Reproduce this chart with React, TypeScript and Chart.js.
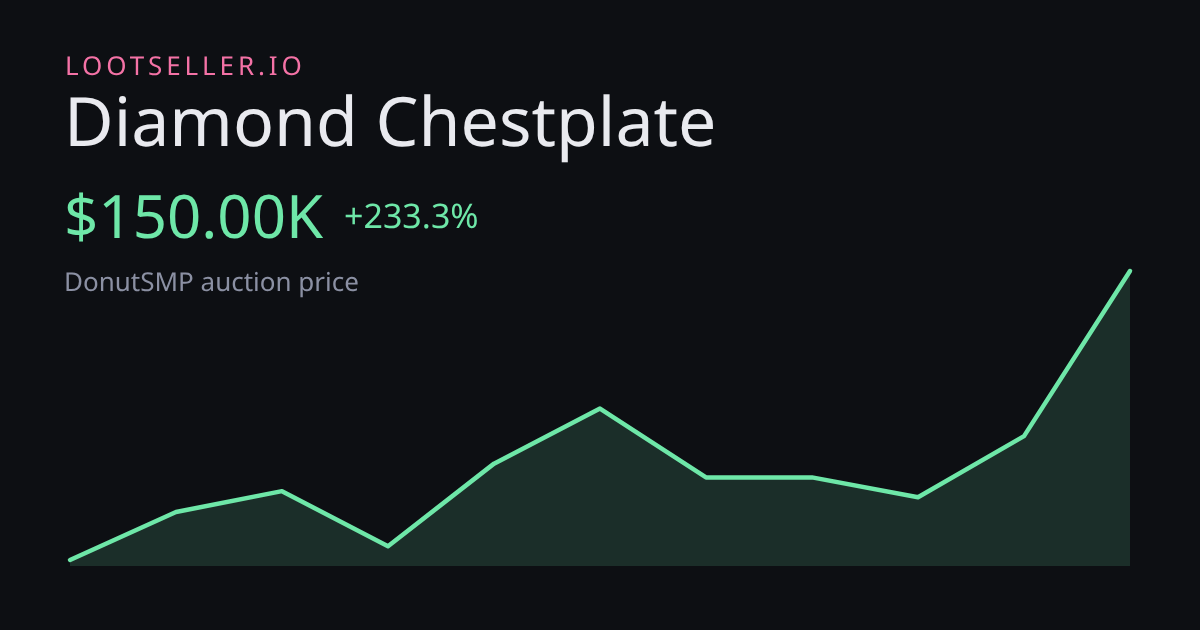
import React, { useEffect, useRef } from "react";
import { Chart, registerables } from "chart.js";

Chart.register(...registerables);

const labels = ["1", "2", "3", "4", "5", "6", "7", "8", "9", "10", "11"];
const prices = [45, 62.4, 70, 50, 80, 100, 75, 75, 67.8, 90, 150];
const yMin = 42.8;
const yMax = 150;

const brand = "LOOTSELLER.IO";
const title = "Diamond Chestplate";
const price = "$150.00K";
const change = "+233.3%";
const subtitle = "DonutSMP auction price";

const BG = "#0d0f13";
const GREEN = "#6ee7a8";
const FONT = "'Noto Sans', sans-serif";

const textStyle = (
  left: number,
  top: number,
  size: number,
  color: string,
  extra: React.CSSProperties = {}
): React.CSSProperties => ({
  position: "absolute",
  left,
  top,
  fontSize: size,
  lineHeight: `${Math.round(size * 1.2)}px`,
  color,
  fontFamily: FONT,
  whiteSpace: "nowrap",
  margin: 0,
  textRendering: "geometricPrecision",
  ...extra,
});

export default function App() {
  const ref = useRef<HTMLCanvasElement>(null);

  useEffect(() => {
    document.body.style.margin = "0";
    document.body.style.background = BG;
    const chart = new Chart(ref.current!, {
      type: "line",
      data: {
        labels,
        datasets: [
          {
            data: prices,
            borderColor: GREEN,
            borderWidth: 4.5,
            borderCapStyle: "round",
            borderJoinStyle: "round",
            backgroundColor: "rgba(110,231,168,0.15)",
            fill: "start",
            pointRadius: 0,
            tension: 0,
            clip: false,
          },
        ],
      },
      options: {
        animation: false,
        responsive: false,
        devicePixelRatio: 1,
        layout: { padding: { left: 70, right: 70, top: 271, bottom: 64 } },
        plugins: { legend: { display: false }, tooltip: { enabled: false } },
        scales: {
          x: { display: false, offset: false },
          y: { display: false, min: yMin, max: yMax },
        },
      },
    });
    return () => chart.destroy();
  }, []);

  return (
    <div style={{ position: "relative", width: 1200, height: 630, background: BG, overflow: "hidden" }}>
      <canvas ref={ref} width={1200} height={630} style={{ position: "absolute", left: 0, top: 0 }} />
      <div style={textStyle(65, 50, 26, "#f472a6", { letterSpacing: "3.9px" })}>{brand}</div>
      <div style={textStyle(64, 79, 68, "#e9eaef")}>{title}</div>
      <div style={textStyle(64, 179, 60, GREEN)}>{price}</div>
      <div style={textStyle(344, 195, 34, GREEN)}>{change}</div>
      <div style={textStyle(64, 266, 26, "#8b90a3")}>{subtitle}</div>
    </div>
  );
}
